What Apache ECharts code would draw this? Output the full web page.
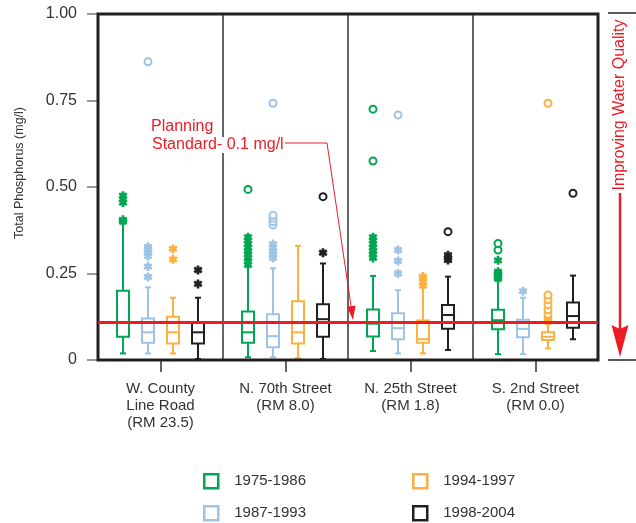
<!DOCTYPE html>
<html>
<head>
<meta charset="utf-8">
<script src="https://cdn.jsdelivr.net/npm/echarts@6/dist/echarts.min.js"></script>
<style>
html,body{margin:0;padding:0;background:#fff;}
#main{width:636px;height:523px;}
</style>
</head>
<body>
<div id="main"></div>
<script>
// ---- data ----
const sites = ['W. County\nLine Road\n(RM 23.5)', 'N. 70th Street\n(RM 8.0)', 'N. 25th Street\n(RM 1.8)', 'S. 2nd Street\n(RM 0.0)'];
const periods = ['1975-1986', '1987-1993', '1994-1997', '1998-2004'];
const yTicks = [0, 0.25, 0.5, 0.75, 1.0];
const standardValue = 0.107;

// [min, Q1, median, Q3, max] per site
const box1975 = [[0.019, 0.067, 0.11, 0.200, 0.395], [0.008, 0.05, 0.08, 0.14, 0.27], [0.026, 0.068, 0.105, 0.146, 0.243], [0.017, 0.089, 0.115, 0.145, 0.23]];
const box1987 = [[0.019, 0.05, 0.08, 0.12, 0.21], [0.008, 0.037, 0.069, 0.132, 0.265], [0.019, 0.06, 0.092, 0.135, 0.202], [0.017, 0.066, 0.09, 0.116, 0.18]];
const box1994 = [[0.019, 0.048, 0.08, 0.125, 0.18], [0.005, 0.048, 0.08, 0.17, 0.33], [0.019, 0.05, 0.06, 0.114, 0.21], [0.034, 0.058, 0.067, 0.08, 0.105]];
const box1998 = [[0.003, 0.048, 0.08, 0.109, 0.18], [0.003, 0.067, 0.118, 0.161, 0.279], [0.029, 0.09, 0.13, 0.159, 0.241], [0.06, 0.093, 0.127, 0.166, 0.244]];

// outliers: [siteIndex, value]
const star1975 = [[0,0.40],[0,0.405],[0,0.455],[0,0.465],[0,0.475],[1,0.275],[1,0.285],[1,0.295],[1,0.305],[1,0.315],[1,0.325],[1,0.335],[1,0.345],[1,0.355],[2,0.295],[2,0.305],[2,0.315],[2,0.325],[2,0.335],[2,0.345],[2,0.355],[3,0.235],[3,0.24],[3,0.245],[3,0.25],[3,0.255],[3,0.288]];
const circ1975 = [[1,0.493],[2,0.575],[2,0.725],[3,0.318],[3,0.337]];
const star1987 = [[0,0.24],[0,0.27],[0,0.30],[0,0.31],[0,0.32],[0,0.327],[1,0.295],[1,0.305],[1,0.315],[1,0.325],[1,0.335],[2,0.25],[2,0.286],[2,0.318],[3,0.199]];
const circ1987 = [[0,0.862],[1,0.39],[1,0.40],[1,0.41],[1,0.418],[1,0.742],[2,0.708]];
const star1994 = [[0,0.291],[0,0.321],[2,0.215],[2,0.225],[2,0.235],[2,0.241],[3,0.11],[3,0.118],[3,0.126]];
const circ1994 = [[3,0.132],[3,0.145],[3,0.16],[3,0.175],[3,0.188],[3,0.742]];
const star1998 = [[0,0.22],[0,0.26],[1,0.31],[2,0.289],[2,0.296],[2,0.303]];
const circ1998 = [[1,0.472],[2,0.371],[3,0.482]];

// ---- styling ----
const colors = ['#00a651', '#9dc3e6', '#fbb040', '#231f20'];
const red = '#ed1c24';
const font = 'Liberation Sans, Arial, Helvetica, sans-serif';
const boxes = [box1975, box1987, box1994, box1998];
const stars = [star1975, star1987, star1994, star1998];
const circs = [circ1975, circ1987, circ1994, circ1998];
const slotsPerSite = 5;
const slotCats = [];
for (let i = 0; i <= sites.length * slotsPerSite; i++) slotCats.push(String(i));
const slotOf = (site, p) => site * slotsPerSite + p + 1;

const asterisk = 'path://M-1.5,-5L1.5,-5L1.5,5L-1.5,5Z M3.58,-3.799L5.08,-1.201L-3.58,3.799L-5.08,1.201Z M5.08,1.201L3.58,3.799L-5.08,-1.201L-3.58,-3.799Z';

function renderBox(params, api) {
  const x = api.value(0);
  const pMin = api.coord([x, api.value(1)]);
  const pQ1 = api.coord([x, api.value(2)]);
  const pMed = api.coord([x, api.value(3)]);
  const pQ3 = api.coord([x, api.value(4)]);
  const pMax = api.coord([x, api.value(5)]);
  const cx = pMed[0];
  const w = 12, cw = 6;
  const c = api.visual('color');
  const ls = {stroke: c, lineWidth: 2};
  return {
    type: 'group',
    children: [
      {type: 'line', shape: {x1: cx, y1: pMax[1], x2: cx, y2: pQ3[1]}, style: ls},
      {type: 'line', shape: {x1: cx, y1: pQ1[1], x2: cx, y2: pMin[1]}, style: ls},
      {type: 'line', shape: {x1: cx - cw / 2, y1: pMax[1], x2: cx + cw / 2, y2: pMax[1]}, style: ls},
      {type: 'line', shape: {x1: cx - cw / 2, y1: pMin[1], x2: cx + cw / 2, y2: pMin[1]}, style: ls},
      {type: 'rect', shape: {x: cx - w / 2, y: pQ3[1], width: w, height: pQ1[1] - pQ3[1]}, style: {fill: 'transparent', stroke: c, lineWidth: 2}},
      {type: 'line', shape: {x1: cx - w / 2, y1: pMed[1], x2: cx + w / 2, y2: pMed[1]}, style: ls}
    ]
  };
}

const series = [];
periods.forEach((name, p) => {
  series.push({
    name: name, type: 'custom', xAxisIndex: 0, yAxisIndex: 0, z: 3,
    itemStyle: {color: colors[p]},
    encode: {x: 0, y: [1, 2, 3, 4, 5]},
    renderItem: renderBox,
    data: boxes[p].map((b, s) => [slotOf(s, p)].concat(b)),
    silent: true
  });
  series.push({
    name: name, type: 'scatter', xAxisIndex: 0, yAxisIndex: 0, z: 4,
    symbol: asterisk, symbolSize: 9,
    itemStyle: {color: colors[p], opacity: 1},
    data: stars[p].map(d => [slotOf(d[0], p), d[1]]),
    silent: true
  });
  series.push({
    name: name, type: 'scatter', xAxisIndex: 0, yAxisIndex: 0, z: 4,
    symbol: 'emptyCircle', symbolSize: 7,
    itemStyle: {color: colors[p], borderWidth: 2, opacity: 1},
    data: circs[p].map(d => [slotOf(d[0], p), d[1]]),
    silent: true
  });
});
series.push({
  name: 'standard', type: 'scatter', xAxisIndex: 0, yAxisIndex: 0, z: 10, data: [],
  markLine: {
    silent: true, symbol: 'none', label: {show: false},
    lineStyle: {color: red, width: 3, type: 'solid'},
    data: [{yAxis: standardValue}]
  }
});

// legend: 2 columns x 2 rows, one legend component per entry
const legendPos = [[203, 473], [203, 505], [412, 473], [412, 505]];
const legends = periods.map((name, p) => ({
  orient: 'horizontal', left: legendPos[p][0], top: legendPos[p][1], padding: 0,
  itemWidth: 14, itemHeight: 14, selectedMode: false,
  textStyle: {fontFamily: font, fontSize: 15, color: '#333', padding: [0, 0, 0, 11]},
  data: [{name: name, icon: 'rect', itemStyle: {color: '#fff', borderColor: colors[p], borderWidth: 2.5}}]
}));

const option = {
  animation: false,
  backgroundColor: '#fff',
  textStyle: {fontFamily: font},
  grid: {left: 98, right: 38, top: 14, bottom: 163, show: true, borderColor: '#231f20', borderWidth: 3, backgroundColor: 'transparent', z: 5},
  xAxis: [
    {type: 'category', data: slotCats, boundaryGap: false, show: false, position: 'top'},
    {
      type: 'category', data: sites, boundaryGap: true, position: 'bottom',
      axisLine: {show: false},
      axisTick: {show: true, alignWithLabel: true, length: 12, lineStyle: {color: '#333', width: 1.5}},
      axisLabel: {fontFamily: font, fontSize: 15, lineHeight: 17, color: '#333', margin: 20},
      splitLine: {show: true, lineStyle: {color: '#333', width: 1.5}}
    }
  ],
  yAxis: {
    type: 'value', min: yTicks[0], max: yTicks[yTicks.length - 1], interval: 0.25,
    axisLine: {show: false},
    axisTick: {show: true, length: 11, lineStyle: {color: '#777', width: 1.5}},
    axisLabel: {fontFamily: font, fontSize: 16, color: '#333', margin: 21, formatter: v => v === 0 ? '0' : v.toFixed(2)},
    splitLine: {show: false}
  },
  legend: legends,
  graphic: [
    {type: 'text', z: 20, x: 20, y: 173, rotation: Math.PI / 2, style: {text: 'Total Phosphorus (mg/l)', fill: '#333', font: '12.5px ' + font, align: 'center', verticalAlign: 'middle'}},
    {type: 'text', left: 151, top: 119, z: 20, style: {text: 'Planning', fill: red, font: '16px ' + font}},
    {type: 'text', left: 151, top: 137, z: 20, style: {text: 'Standard- 0.1 mg/l', fill: red, font: '16px ' + font, backgroundColor: '#fff', padding: [0, 1]}},
    {type: 'polyline', z: 20, shape: {points: [[285, 143], [327, 143], [351, 306]]}, style: {stroke: red, lineWidth: 1, fill: null}},
    {type: 'polygon', z: 20, shape: {points: [[353, 320], [355.5, 305.5], [347, 306.8]]}, style: {fill: red}},
    {type: 'line', z: 20, shape: {x1: 608, y1: 13, x2: 636, y2: 13}, style: {stroke: '#231f20', lineWidth: 1.5}},
    {type: 'line', z: 20, shape: {x1: 608, y1: 360, x2: 636, y2: 360}, style: {stroke: '#231f20', lineWidth: 1.5}},
    {type: 'text', z: 20, x: 620, y: 105, rotation: Math.PI / 2, style: {text: 'Improving Water Quality', fill: red, font: '16px ' + font, align: 'center', verticalAlign: 'middle'}},
    {type: 'line', z: 20, shape: {x1: 620, y1: 193, x2: 620, y2: 330}, style: {stroke: red, lineWidth: 2.5}},
    {type: 'polygon', z: 20, shape: {points: [[620, 357], [611.5, 325], [620, 329], [628.5, 325]]}, style: {fill: red}}
  ],
  series: series
};

const chart = echarts.init(document.getElementById('main'), null, {renderer: 'canvas'});
chart.setOption(option);
</script>
</body>
</html>
